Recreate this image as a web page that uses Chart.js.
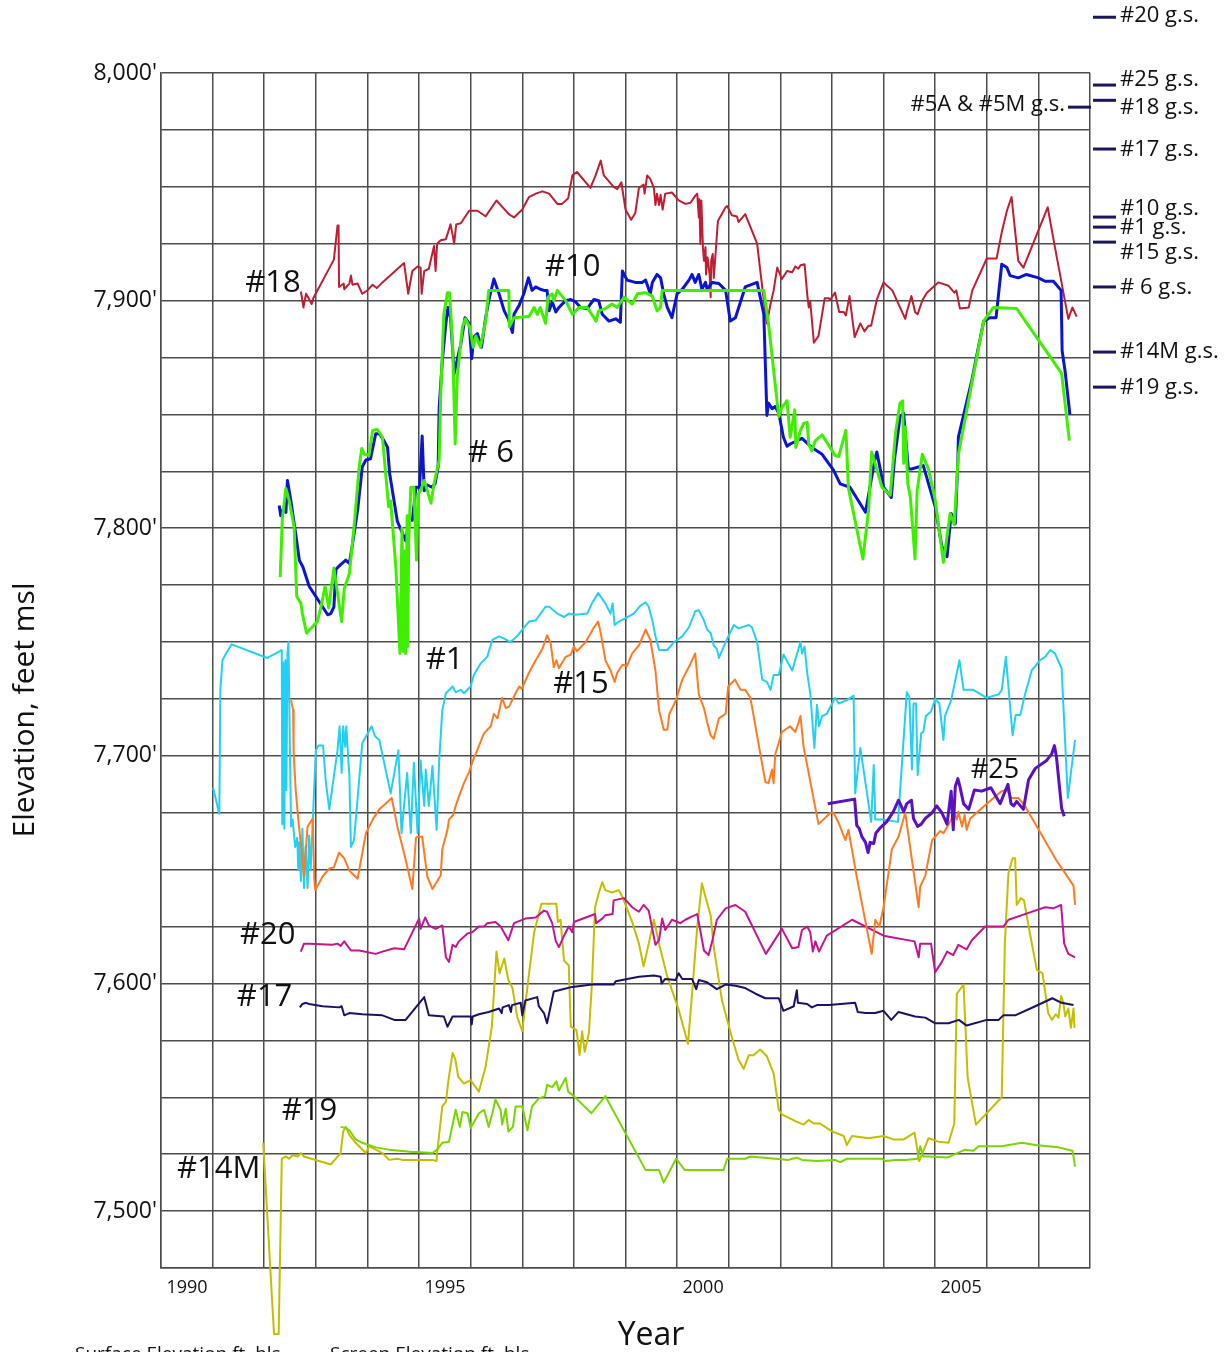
<!DOCTYPE html>
<html>
<head>
<meta charset="utf-8">
<script src="https://cdn.jsdelivr.net/npm/chart.js@4.4.1/dist/chart.umd.min.js"></script>
<style>
  html, body { margin: 0; padding: 0; background: #fff; }
  canvas { display: block; }
</style>
</head>
<body>
<canvas id="hydro" width="1227" height="1352"></canvas>
<script>
// water levels, [decimal year, elevation ft msl]
const well18 = [[1992.71,7904],[1992.76,7897],[1992.81,7903],[1992.86,7901],[1992.92,7898.5],[1992.95,7901],[1993.35,7918],[1993.42,7933],[1993.44,7933],[1993.45,7906],[1993.54,7907.5],[1993.55,7905],[1993.65,7907.5],[1993.68,7911],[1993.71,7907],[1993.81,7907.5],[1993.9,7903],[1994.0,7904.5],[1994.1,7907],[1994.18,7905.5],[1994.29,7908],[1994.71,7916.5],[1994.79,7903],[1994.87,7913],[1994.97,7915],[1995.03,7914.5],[1995.05,7903],[1995.1,7913],[1995.19,7914],[1995.29,7924],[1995.32,7913],[1995.35,7925],[1995.42,7926.5],[1995.52,7927],[1995.61,7933.5],[1995.65,7929],[1995.68,7925],[1995.72,7933.5],[1995.81,7934],[1995.97,7939.5],[1996.13,7939.5],[1996.26,7937.5],[1996.29,7937],[1996.5,7944],[1996.74,7938],[1996.84,7936.5],[1997.0,7940],[1997.13,7945.5],[1997.26,7947],[1997.39,7948],[1997.52,7947],[1997.68,7942.5],[1997.77,7942.5],[1997.89,7945],[1997.97,7955],[1998.06,7956.5],[1998.32,7949.5],[1998.42,7955],[1998.52,7961.5],[1998.58,7955],[1998.77,7950],[1998.84,7949],[1998.92,7952],[1999.0,7940],[1999.11,7935.5],[1999.19,7938.5],[1999.26,7949.5],[1999.35,7951],[1999.37,7947],[1999.42,7955],[1999.48,7953.5],[1999.55,7949.5],[1999.58,7942],[1999.61,7947],[1999.65,7942],[1999.68,7946.5],[1999.72,7940],[1999.77,7947],[1999.9,7947.5],[2000.03,7944],[2000.16,7942.5],[2000.26,7943],[2000.35,7946],[2000.39,7947],[2000.42,7936.5],[2000.43,7944.5],[2000.45,7925],[2000.47,7944],[2000.5,7923.5],[2000.52,7917.5],[2000.55,7923.5],[2000.56,7911.5],[2000.59,7919],[2000.63,7911.5],[2000.65,7901.5],[2000.66,7917.5],[2000.69,7920.5],[2000.71,7910],[2000.74,7919],[2000.79,7935],[2000.94,7941],[2000.97,7941.5],[2001.06,7937.5],[2001.16,7937],[2001.19,7934.5],[2001.32,7938],[2001.55,7925],[2001.68,7900],[2001.74,7890],[2001.81,7898.5],[2001.87,7904.5],[2001.94,7914.5],[2002.03,7909.5],[2002.13,7913],[2002.23,7912.5],[2002.29,7915],[2002.35,7914],[2002.39,7915.5],[2002.47,7916],[2002.52,7903],[2002.55,7897],[2002.58,7899.5],[2002.65,7881.5],[2002.74,7884.5],[2002.86,7901],[2002.94,7901],[2002.97,7900.5],[2003.06,7903.5],[2003.14,7895],[2003.23,7895],[2003.27,7893.5],[2003.34,7902],[2003.44,7884],[2003.55,7890],[2003.63,7886.5],[2003.71,7889],[2003.76,7889],[2003.87,7900.5],[2004.0,7908],[2004.17,7904.5],[2004.42,7892],[2004.45,7895],[2004.54,7902],[2004.61,7895],[2004.66,7894],[2004.75,7900],[2004.84,7903.5],[2005.06,7908],[2005.26,7906.5],[2005.37,7903.5],[2005.41,7904.5],[2005.48,7896.5],[2005.65,7897],[2005.72,7904.5],[2006.0,7918.5],[2006.19,7918.5],[2006.29,7930],[2006.39,7939.5],[2006.48,7945.5],[2006.61,7917.5],[2006.71,7914.5],[2007.18,7941],[2007.32,7923.5],[2007.58,7892],[2007.66,7897],[2007.74,7893]];

const well10 = [[1992.29,7810],[1992.32,7805.5],[1992.37,7808.5],[1992.42,7807],[1992.45,7821],[1992.52,7811.5],[1992.61,7797.5],[1992.68,7786],[1992.75,7783],[1992.87,7774.5],[1993.0,7770],[1993.13,7765.5],[1993.23,7762],[1993.29,7762.5],[1993.35,7765.5],[1993.39,7782],[1993.48,7784],[1993.58,7786],[1993.65,7784.5],[1993.71,7793],[1993.81,7808],[1993.9,7827],[1993.97,7830],[1994.06,7830.5],[1994.16,7841.5],[1994.23,7841.5],[1994.32,7838.5],[1994.39,7835.5],[1994.43,7824],[1994.58,7803],[1994.74,7794.5],[1994.81,7804],[1994.87,7803.5],[1994.94,7818],[1995.01,7818],[1995.06,7840.5],[1995.1,7816.5],[1995.16,7819],[1995.25,7818],[1995.31,7819.5],[1995.37,7827],[1995.39,7853],[1995.45,7873.5],[1995.52,7890],[1995.56,7897],[1995.61,7892.5],[1995.68,7868],[1995.71,7871],[1995.81,7881],[1995.89,7892.5],[1995.97,7890],[1996.02,7874.5],[1996.06,7884],[1996.13,7885.5],[1996.21,7879.5],[1996.29,7892.5],[1996.35,7900],[1996.45,7909.5],[1996.55,7903],[1996.65,7895.5],[1996.73,7892],[1996.81,7886],[1996.84,7894],[1996.94,7898],[1997.03,7903],[1997.12,7910],[1997.19,7904.5],[1997.26,7906],[1997.35,7905],[1997.42,7904.5],[1997.48,7904.5],[1997.52,7895.5],[1997.58,7899.5],[1997.65,7895],[1997.71,7897],[1997.84,7900],[1997.94,7900.5],[1998.03,7899.5],[1998.13,7897],[1998.26,7896.5],[1998.32,7898.5],[1998.39,7900.5],[1998.48,7900],[1998.55,7894],[1998.68,7891],[1998.81,7892],[1998.9,7890.5],[1998.94,7913],[1999.03,7909],[1999.19,7908],[1999.32,7908],[1999.39,7909],[1999.48,7903],[1999.52,7908],[1999.61,7911.5],[1999.68,7910],[1999.74,7903],[1999.81,7897],[1999.9,7892.5],[2000.0,7903],[2000.1,7905],[2000.23,7909],[2000.29,7911.5],[2000.35,7908],[2000.42,7911.5],[2000.48,7905],[2000.55,7908],[2000.58,7905],[2000.68,7908],[2000.81,7907.5],[2000.94,7904.5],[2001.03,7891],[2001.13,7892.5],[2001.32,7906],[2001.55,7908],[2001.68,7894],[2001.74,7849.5],[2001.77,7855],[2001.84,7852.5],[2001.9,7853.5],[2001.97,7850.5],[2002.06,7840],[2002.13,7836],[2002.19,7837],[2002.42,7839.5],[2002.61,7835.5],[2002.81,7832.5],[2003.03,7825.5],[2003.16,7819.5],[2003.35,7818],[2003.65,7807],[2003.83,7830],[2003.87,7833.5],[2003.97,7822],[2004.0,7818],[2004.15,7813.5],[2004.21,7830],[2004.32,7849],[2004.39,7850.5],[2004.48,7826],[2004.54,7826],[2004.77,7827.5],[2005.0,7809.5],[2005.13,7792],[2005.23,7787.5],[2005.31,7806.5],[2005.39,7802],[2005.44,7830],[2005.45,7840],[2005.71,7865],[2005.94,7891],[2006.06,7892.5],[2006.18,7892.5],[2006.29,7916],[2006.39,7914.5],[2006.45,7911],[2006.61,7910],[2006.77,7911.5],[2007.0,7910],[2007.13,7908.5],[2007.29,7908.5],[2007.44,7904.5],[2007.46,7878],[2007.52,7868.5],[2007.61,7850]];

const well6 = [[1992.31,7778.5],[1992.35,7804],[1992.42,7817.5],[1992.48,7812.5],[1992.58,7800.5],[1992.63,7770],[1992.71,7767],[1992.74,7762.5],[1992.82,7754],[1993.03,7759],[1993.1,7765.5],[1993.18,7774.5],[1993.25,7765],[1993.35,7782.5],[1993.42,7771.5],[1993.5,7759],[1993.55,7773.5],[1993.65,7780],[1993.74,7800.5],[1993.84,7827],[1993.89,7835],[1993.94,7832.5],[1994.03,7832],[1994.1,7843],[1994.19,7843.5],[1994.29,7840],[1994.41,7809.5],[1994.45,7812],[1994.55,7783],[1994.63,7745],[1994.67,7800],[1994.69,7746],[1994.72,7790],[1994.74,7745],[1994.77,7805.5],[1994.78,7748],[1994.8,7795],[1994.84,7818],[1994.9,7818],[1994.95,7786],[1994.98,7815],[1995.03,7816.5],[1995.1,7821],[1995.16,7816.5],[1995.23,7811],[1995.29,7819.5],[1995.39,7830],[1995.42,7859],[1995.48,7894],[1995.55,7903.5],[1995.59,7903.5],[1995.65,7881],[1995.7,7837],[1995.74,7866.5],[1995.84,7888.5],[1995.9,7892],[1995.98,7888.5],[1996.05,7879.5],[1996.1,7884.5],[1996.19,7879.5],[1996.29,7891],[1996.35,7904.5],[1996.74,7904.5],[1996.75,7888.5],[1996.84,7892.5],[1997.13,7893],[1997.23,7897],[1997.29,7894],[1997.35,7897],[1997.45,7890],[1997.5,7901.5],[1997.58,7903],[1997.61,7900],[1997.68,7904.5],[1997.84,7900],[1997.97,7894],[1998.1,7897],[1998.26,7897],[1998.43,7891],[1998.48,7895.5],[1998.61,7896.5],[1998.74,7898.5],[1998.84,7897],[1998.97,7901.5],[1999.13,7898.5],[1999.23,7903],[1999.39,7903.5],[1999.52,7902],[1999.61,7895.5],[1999.68,7897],[1999.71,7904.5],[2001.68,7904.5],[2001.77,7890],[2001.97,7849],[2002.03,7853],[2002.13,7856],[2002.19,7840],[2002.28,7852],[2002.3,7835.5],[2002.39,7843],[2002.45,7846],[2002.52,7846.5],[2002.55,7837],[2002.61,7834],[2002.68,7838.5],[2002.81,7841],[2003.06,7832],[2003.13,7831.5],[2003.27,7843],[2003.32,7817.5],[2003.6,7786.5],[2003.71,7808],[2003.77,7833.5],[2003.97,7818],[2004.13,7814.5],[2004.23,7841.5],[2004.32,7855],[2004.37,7856],[2004.39,7828.5],[2004.42,7844.5],[2004.47,7819.5],[2004.52,7813.5],[2004.61,7786.5],[2004.65,7816.5],[2004.68,7821],[2004.75,7832.5],[2004.87,7826],[2005.0,7812.5],[2005.16,7785],[2005.29,7806.5],[2005.37,7801.5],[2005.45,7832.5],[2005.55,7844.5],[2005.94,7891],[2006.13,7897],[2006.58,7896.5],[2007.45,7868],[2007.6,7838.5]];

const well1 = [[1991.01,7686],[1991.13,7674.5],[1991.15,7729],[1991.19,7742],[1991.26,7745],[1991.37,7749],[1992.06,7743],[1992.34,7746.5],[1992.35,7670],[1992.37,7741],[1992.39,7668],[1992.41,7742],[1992.43,7685],[1992.45,7745],[1992.47,7750],[1992.5,7700],[1992.52,7669],[1992.55,7672],[1992.6,7660],[1992.64,7664],[1992.66,7650],[1992.68,7662],[1992.71,7645],[1992.74,7668],[1992.77,7642],[1992.8,7660],[1992.84,7642],[1992.87,7665],[1992.9,7650],[1993.0,7702.5],[1993.05,7704.5],[1993.14,7704.5],[1993.19,7689.5],[1993.26,7676.5],[1993.31,7684.5],[1993.42,7702.5],[1993.46,7713],[1993.5,7692.5],[1993.53,7713],[1993.57,7704],[1993.59,7713],[1993.65,7691],[1993.68,7660],[1993.74,7663],[1993.9,7705.5],[1994.08,7713],[1994.15,7708.5],[1994.23,7707],[1994.45,7683.5],[1994.6,7702.5],[1994.66,7666],[1994.77,7692.5],[1994.84,7666],[1994.9,7697],[1994.97,7666],[1995.03,7698],[1995.1,7678],[1995.13,7694],[1995.19,7678],[1995.26,7695.5],[1995.34,7667.5],[1995.39,7698],[1995.45,7720],[1995.52,7727.5],[1995.65,7730.5],[1995.71,7728],[1995.81,7729],[1995.87,7727.5],[1996.0,7730.5],[1996.06,7735.5],[1996.19,7740.5],[1996.32,7743.5],[1996.42,7751],[1996.55,7752.5],[1996.65,7751.5],[1996.77,7750],[1996.9,7752.5],[1997.0,7755.5],[1997.13,7759],[1997.26,7759.5],[1997.45,7765.5],[1997.52,7765.5],[1997.68,7762.5],[1997.81,7761],[1997.9,7762.5],[1998.03,7762],[1998.26,7762.5],[1998.35,7767],[1998.47,7771.5],[1998.61,7767],[1998.71,7762.5],[1998.75,7767],[1998.79,7757.5],[1998.87,7759],[1999.0,7760.5],[1999.16,7762.5],[1999.29,7766],[1999.39,7767.5],[1999.45,7765.5],[1999.52,7759.5],[1999.58,7752.5],[1999.65,7746.5],[1999.81,7746.5],[1999.94,7750],[2000.1,7752.5],[2000.23,7756.5],[2000.35,7763.5],[2000.42,7764],[2000.52,7759.5],[2000.58,7755.5],[2000.65,7754],[2000.71,7748.5],[2000.77,7747],[2000.81,7743],[2000.94,7750],[2001.1,7757.5],[2001.19,7756],[2001.39,7757.5],[2001.45,7756.5],[2001.55,7750],[2001.65,7733.5],[2001.74,7732.5],[2001.81,7729],[2001.87,7735.5],[2001.97,7735.5],[2002.06,7744.5],[2002.23,7737.5],[2002.39,7750],[2002.42,7745],[2002.47,7748],[2002.52,7736.5],[2002.58,7727.5],[2002.66,7703.5],[2002.71,7722.5],[2002.75,7713],[2002.81,7717.5],[2002.9,7718.5],[2003.06,7725.5],[2003.13,7723],[2003.29,7724.5],[2003.42,7726.5],[2003.45,7683.5],[2003.55,7703.5],[2003.76,7671],[2003.81,7696],[2003.84,7672],[2003.97,7672],[2004.28,7671],[2004.45,7728],[2004.5,7726],[2004.55,7694],[2004.58,7723],[2004.63,7723],[2004.66,7691.5],[2004.73,7710],[2004.77,7710.5],[2004.82,7717.5],[2004.92,7719.5],[2005.0,7725],[2005.08,7723],[2005.16,7707],[2005.19,7717.5],[2005.31,7724.5],[2005.47,7742],[2005.55,7729],[2005.74,7729],[2006.0,7725.5],[2006.23,7727],[2006.29,7729],[2006.37,7743.5],[2006.5,7709],[2006.56,7718],[2006.65,7718],[2006.74,7727],[2006.87,7737.5],[2007.03,7742],[2007.13,7743.5],[2007.23,7746.5],[2007.32,7745],[2007.45,7738.5],[2007.57,7681.5],[2007.71,7707]];

const well15 = [[1992.52,7724.5],[1992.56,7720],[1992.57,7701],[1992.61,7685],[1992.66,7672],[1992.74,7654.5],[1992.77,7647],[1992.84,7669],[1992.94,7672.5],[1992.97,7645.5],[1992.99,7641],[1993.13,7647],[1993.26,7650.5],[1993.35,7651],[1993.45,7657.5],[1993.55,7655],[1993.65,7649.5],[1993.81,7646],[1993.97,7666],[1994.1,7672],[1994.23,7676.5],[1994.35,7679],[1994.47,7681.5],[1994.58,7669],[1994.74,7654.5],[1994.87,7641.5],[1994.94,7664],[1994.97,7664.5],[1995.06,7664.5],[1995.16,7647],[1995.26,7641.5],[1995.42,7647.5],[1995.45,7659],[1995.55,7667.5],[1995.58,7672],[1995.66,7674],[1995.71,7678],[1995.77,7682],[1995.87,7688],[1995.97,7693],[1996.06,7699],[1996.1,7701],[1996.26,7710],[1996.39,7713],[1996.45,7718.5],[1996.52,7716.5],[1996.61,7725.5],[1996.68,7721],[1996.74,7721.5],[1996.87,7727.5],[1996.94,7730.5],[1996.99,7729.5],[1997.13,7736.5],[1997.26,7742],[1997.39,7747],[1997.48,7753],[1997.55,7749.5],[1997.61,7739],[1997.66,7742],[1997.71,7738.5],[1997.84,7743.5],[1997.94,7744.5],[1998.0,7748],[1998.06,7746],[1998.23,7750],[1998.39,7756.5],[1998.47,7759],[1998.52,7754],[1998.61,7742],[1998.71,7737.5],[1998.79,7732.5],[1998.84,7736.5],[1998.94,7740],[1999.03,7739.5],[1999.13,7745],[1999.26,7748.5],[1999.39,7755.5],[1999.48,7751],[1999.58,7737.5],[1999.65,7720],[1999.74,7711.5],[1999.81,7711.5],[1999.85,7718.5],[1999.97,7724],[2000.1,7733.5],[2000.26,7740.5],[2000.35,7745],[2000.37,7740],[2000.42,7727],[2000.52,7721],[2000.58,7715],[2000.65,7709],[2000.71,7707.5],[2000.81,7716.5],[2000.94,7718.5],[2000.99,7730.5],[2001.12,7733.5],[2001.23,7729],[2001.32,7729],[2001.42,7725.5],[2001.71,7688.5],[2001.77,7688],[2001.84,7694],[2001.87,7688],[2001.9,7700.5],[2002.03,7710.5],[2002.19,7713],[2002.29,7710.5],[2002.35,7714.5],[2002.39,7717.5],[2002.45,7704],[2002.74,7670],[2002.97,7675],[2003.03,7675],[2003.13,7670.5],[2003.26,7663],[2003.32,7667.5],[2003.48,7647],[2003.77,7613],[2003.84,7628],[2003.92,7625],[2004.0,7633.5],[2004.13,7654],[2004.16,7659],[2004.29,7664.5],[2004.42,7675],[2004.68,7633.5],[2004.71,7642.5],[2004.81,7647.5],[2004.94,7663],[2005.1,7667],[2005.16,7666],[2005.29,7671],[2005.37,7675],[2005.42,7672],[2005.45,7675.5],[2005.52,7669],[2005.57,7674],[2005.61,7667.5],[2005.68,7672.5],[2006.0,7679],[2006.29,7684.5],[2006.39,7685],[2006.48,7681.5],[2006.61,7681.5],[2006.74,7678],[2007.35,7654],[2007.68,7643],[2007.71,7634.5]];

const well25 = [[2002.92,7679],[2003.44,7681],[2003.48,7669.5],[2003.53,7668],[2003.58,7664.5],[2003.65,7662],[2003.7,7657.5],[2003.74,7662],[2003.81,7661.5],[2003.85,7666],[2003.94,7668.5],[2004.06,7671],[2004.19,7675.5],[2004.29,7680.5],[2004.39,7675.5],[2004.45,7679],[2004.54,7680.5],[2004.58,7672.5],[2004.66,7669],[2004.73,7670],[2004.81,7672.5],[2004.94,7675],[2005.03,7678],[2005.13,7675],[2005.23,7670],[2005.31,7684.5],[2005.35,7667.5],[2005.39,7686.5],[2005.44,7690],[2005.48,7686.5],[2005.55,7679],[2005.65,7676.5],[2005.76,7685],[2005.9,7684.5],[2006.08,7686],[2006.26,7679],[2006.41,7687.5],[2006.47,7679],[2006.52,7678],[2006.58,7680],[2006.71,7676.5],[2006.81,7689.5],[2006.94,7694.5],[2007.16,7698],[2007.26,7701],[2007.31,7704.5],[2007.35,7699.5],[2007.45,7677],[2007.5,7673.5]];

const well20 = [[1992.71,7614],[1992.77,7617.5],[1992.87,7617.5],[1993.32,7617],[1993.42,7617.5],[1993.48,7616.5],[1993.55,7618.5],[1993.68,7614.5],[1993.84,7614.5],[1994.16,7613],[1994.29,7614],[1994.52,7615.5],[1994.71,7615],[1995.0,7628.5],[1995.03,7624],[1995.12,7629],[1995.19,7625.5],[1995.32,7624],[1995.45,7625.5],[1995.52,7611.5],[1995.58,7609.5],[1995.65,7617],[1995.71,7616],[1995.77,7618.5],[1995.94,7622],[1996.03,7622.5],[1996.16,7625],[1996.26,7625],[1996.32,7626.5],[1996.48,7627],[1996.58,7625],[1996.73,7619],[1996.84,7626.5],[1997.06,7628.5],[1997.26,7629],[1997.42,7632],[1997.48,7631.5],[1997.58,7626.5],[1997.65,7618.5],[1997.71,7616],[1997.81,7621],[1997.9,7625],[1997.97,7622.5],[1998.0,7627],[1998.23,7629],[1998.41,7630.5],[1998.43,7626.5],[1998.55,7628.5],[1998.61,7630],[1998.75,7630.5],[1998.77,7636.5],[1998.97,7637.5],[1999.13,7633.5],[1999.26,7631.5],[1999.35,7634.5],[1999.45,7632],[1999.58,7617],[1999.65,7619],[1999.71,7628.5],[1999.77,7623.5],[1999.9,7628],[2000.06,7626.5],[2000.16,7628],[2000.29,7629.5],[2000.39,7630.5],[2000.52,7614.5],[2000.61,7612.5],[2000.68,7618.5],[2000.77,7628],[2000.94,7633],[2001.13,7634.5],[2001.32,7631.5],[2001.72,7613],[2002.03,7624],[2002.23,7615.5],[2002.35,7616],[2002.42,7623.5],[2002.52,7625],[2002.58,7622.5],[2002.63,7614],[2002.68,7618.5],[2002.75,7614],[2002.9,7621],[2003.39,7628],[2004.0,7621],[2004.6,7618.5],[2004.68,7611.5],[2004.71,7617.5],[2004.92,7617.5],[2005.0,7605],[2005.13,7609.5],[2005.23,7614],[2005.35,7612.5],[2005.45,7617],[2005.61,7615],[2005.71,7619],[2005.97,7625],[2006.19,7625],[2006.32,7625],[2006.42,7628],[2006.81,7631],[2007.13,7633.5],[2007.29,7633],[2007.44,7634.5],[2007.5,7617.5],[2007.58,7613],[2007.71,7611.5]];

const well17 = [[1992.69,7589.5],[1992.74,7591],[1992.81,7591.5],[1992.87,7591],[1993.13,7590],[1993.45,7589.5],[1993.5,7590],[1993.55,7586],[1993.65,7587],[1993.9,7586.5],[1994.29,7586],[1994.52,7584],[1994.74,7584],[1995.1,7594],[1995.19,7586],[1995.48,7585.5],[1995.55,7581],[1995.65,7585.5],[1995.97,7585.5],[1996.0,7585.5],[1996.02,7582],[1996.04,7585.5],[1996.16,7586.5],[1996.35,7587.5],[1996.55,7589],[1996.6,7587],[1996.62,7589.5],[1996.74,7590.5],[1996.78,7587.5],[1996.8,7590.5],[1996.97,7591.5],[1997.0,7586],[1997.06,7592.5],[1997.29,7594],[1997.32,7590],[1997.42,7587],[1997.48,7582.5],[1997.61,7596.5],[1997.71,7597],[1997.97,7598.5],[1998.35,7599.5],[1998.77,7599.5],[1998.81,7601],[1999.26,7603],[1999.55,7603.5],[1999.68,7603],[1999.7,7600],[1999.77,7602],[1999.97,7601.5],[2000.03,7604.5],[2000.1,7602],[2000.29,7602],[2000.37,7597.5],[2000.42,7601.5],[2000.58,7600.5],[2000.77,7597.5],[2000.94,7599.5],[2001.13,7599],[2001.32,7598],[2001.52,7595.5],[2001.71,7593.5],[2001.97,7593.5],[2002.06,7588],[2002.26,7590],[2002.32,7597],[2002.34,7591.5],[2002.52,7591],[2002.61,7589.5],[2002.71,7590.5],[2002.94,7590.5],[2003.45,7591.5],[2003.5,7587.5],[2003.65,7587],[2003.84,7587],[2004.0,7588],[2004.15,7584],[2004.29,7587.5],[2004.61,7585.5],[2004.81,7585],[2005.0,7582.5],[2005.26,7582.5],[2005.46,7584],[2005.61,7581.5],[2006.0,7584],[2006.23,7584],[2006.32,7586],[2006.55,7586],[2006.94,7590],[2007.27,7593.5],[2007.45,7591.5],[2007.68,7590.5]];

const well19 = [[1993.48,7537],[1993.58,7536.5],[1993.65,7535.5],[1993.77,7531.5],[1993.9,7530],[1994.16,7528],[1994.42,7527],[1994.87,7526],[1994.94,7526],[1995.26,7525.5],[1995.35,7527],[1995.45,7530],[1995.58,7530.5],[1995.71,7544.5],[1995.79,7537],[1995.84,7543.5],[1995.94,7543],[1996.0,7536.5],[1996.16,7543],[1996.26,7544.5],[1996.35,7537],[1996.42,7543],[1996.48,7549],[1996.58,7544.5],[1996.61,7538],[1996.68,7545],[1996.73,7535],[1996.82,7537],[1996.87,7546],[1997.0,7546],[1997.1,7535.5],[1997.19,7546],[1997.32,7549.5],[1997.44,7550.5],[1997.48,7555.5],[1997.58,7554.5],[1997.66,7557],[1997.71,7553],[1997.84,7558.5],[1997.89,7552.5],[1998.0,7550.5],[1998.34,7543],[1998.61,7550.5],[1999.39,7518],[1999.65,7518],[1999.74,7512.5],[1999.98,7523],[2000.15,7518],[2000.9,7518],[2000.97,7523],[2001.32,7523],[2001.42,7524],[2002.16,7522.5],[2002.23,7523],[2002.32,7523.5],[2002.42,7522.5],[2002.71,7522],[2003.06,7522.5],[2003.16,7521.5],[2003.29,7523],[2003.97,7523],[2004.03,7522],[2004.23,7522.5],[2004.42,7522.5],[2004.66,7523],[2004.71,7528.5],[2004.77,7524],[2004.87,7524],[2005.23,7523.5],[2005.58,7527],[2005.74,7526.5],[2005.84,7528.5],[2006.29,7528.5],[2006.68,7530],[2006.94,7529],[2007.19,7528.5],[2007.39,7528],[2007.66,7526.5],[2007.68,7524],[2007.71,7519.5]];

const well14M = [[1991.98,7530],[1992.19,7446],[1992.28,7446],[1992.34,7523],[1992.42,7524],[1992.48,7523],[1992.55,7524.5],[1992.65,7524],[1992.71,7525.5],[1992.77,7524],[1993.29,7520.5],[1993.48,7525.5],[1993.53,7535],[1993.58,7537],[1993.65,7533.5],[1993.77,7530],[1993.97,7525.5],[1994.03,7528.5],[1994.16,7527],[1994.29,7525.5],[1994.42,7522.5],[1994.58,7523],[1994.68,7522.5],[1994.87,7522.5],[1995.26,7522.5],[1995.34,7522],[1995.35,7525.5],[1995.45,7546],[1995.52,7548],[1995.57,7557.5],[1995.65,7569.5],[1995.7,7567],[1995.76,7559],[1995.87,7556],[1996.0,7557.5],[1996.16,7552.5],[1996.29,7563.5],[1996.41,7581],[1996.5,7614],[1996.56,7604.5],[1996.65,7611],[1996.73,7601.5],[1996.81,7598],[1996.9,7585.5],[1997.0,7579],[1997.1,7598.5],[1997.23,7622.5],[1997.32,7630.5],[1997.37,7635],[1997.66,7635],[1997.69,7627],[1997.74,7628],[1997.81,7610],[1997.9,7608],[1997.94,7581],[1998.05,7579.5],[1998.11,7568.5],[1998.16,7579],[1998.21,7570],[1998.29,7578],[1998.35,7600],[1998.41,7633.5],[1998.48,7639.5],[1998.55,7644.5],[1998.61,7641],[1998.74,7640],[1998.87,7641],[1998.94,7638],[1999.13,7627],[1999.26,7617.5],[1999.35,7607.5],[1999.45,7617.5],[1999.55,7628],[1999.65,7617.5],[1999.81,7603],[2000.03,7588.5],[2000.21,7573.5],[2000.29,7595.5],[2000.39,7625],[2000.48,7644],[2000.55,7638],[2000.65,7630],[2000.71,7616],[2000.87,7592.5],[2001.06,7576.5],[2001.19,7566.5],[2001.29,7562.5],[2001.39,7568.5],[2001.48,7568.5],[2001.61,7571],[2001.74,7568],[2001.87,7560.5],[2001.97,7544.5],[2002.03,7542.5],[2002.29,7539.5],[2002.45,7538],[2002.55,7540],[2002.65,7538.5],[2002.77,7538.5],[2003.0,7535],[2003.23,7533],[2003.29,7529],[2003.39,7533],[2003.71,7532],[2004.0,7533],[2004.19,7531.5],[2004.39,7531.5],[2004.6,7534.5],[2004.69,7522],[2004.87,7532],[2005.06,7530.5],[2005.26,7530],[2005.37,7538.5],[2005.42,7595.5],[2005.55,7599.5],[2005.63,7558.5],[2005.79,7538],[2006.29,7550],[2006.35,7617.5],[2006.42,7648.5],[2006.5,7655],[2006.55,7655],[2006.58,7634.5],[2006.66,7637.5],[2006.72,7636.5],[2006.84,7621.5],[2006.97,7606],[2007.08,7604.5],[2007.19,7587],[2007.26,7584],[2007.34,7586.5],[2007.39,7585],[2007.44,7594.5],[2007.48,7592],[2007.52,7585.5],[2007.58,7589],[2007.63,7580.5],[2007.68,7589],[2007.7,7580.5]];

// ground surface elevations marked beside the right edge
const gsNames = ['#20 g.s.', '#25 g.s.', '#18 g.s.', '#17 g.s.', '#10 g.s.', '#1 g.s.', '#15 g.s.', '# 6 g.s.', '#14M g.s.', '#19 g.s.'];
const gsElev = [8024.5, 7994.7, 7988, 7966.6, 7936.7, 7932.3, 7925.7, 7906, 7877.4, 7862];
const gs5AM = 7985;

const yearTicks = [1990, 1995, 2000, 2005];

const FONT = '"Open Sans", "Noto Sans", sans-serif';
const pts = arr => arr.map(p => ({ x: p[0], y: p[1] }));

function line(label, data, color, width) {
  return { label, data: pts(data), borderColor: color, borderWidth: width,
           pointRadius: 0, tension: 0, fill: false, borderJoinStyle: 'round' };
}

// well tags placed in data units (left edge, vertical centre)
const tags = [
  { t: '#18', x: 1991.63, y: 7907.7, s: 31 },
  { t: '#10', x: 1997.44, y: 7914.8, s: 31 },
  { t: '# 6', x: 1995.95, y: 7833.0, s: 31 },
  { t: '#1', x: 1995.13, y: 7742.1, s: 31 },
  { t: '#15', x: 1997.6, y: 7731.5, s: 31 },
  { t: '#25', x: 2005.69, y: 7693.8, s: 27 },
  { t: '#20', x: 1991.53, y: 7621.3, s: 31 },
  { t: '#17', x: 1991.47, y: 7594.0, s: 31 },
  { t: '#19', x: 1992.34, y: 7543.9, s: 31 },
  { t: '#14M', x: 1990.31, y: 7518.5, s: 31 }
];
// small vertical nudges so crowded g.s. names don't collide
const gsNudge = [-1, -5, 7, 1, -8, 1, 11, 1, 0, 1];

const annotate = {
  id: 'annotate',
  afterDraw(chart) {
    const { ctx, chartArea: a, scales: { x, y } } = chart;
    ctx.save();
    ctx.fillStyle = '#111';
    ctx.textBaseline = 'middle';

    tags.forEach(g => {
      ctx.font = g.s + 'px ' + FONT;
      ctx.textAlign = 'left';
      ctx.fillText(g.t, x.getPixelForValue(g.x), y.getPixelForValue(g.y));
    });

    ctx.strokeStyle = '#1c1660';
    ctx.lineWidth = 3;
    ctx.font = '22px ' + FONT;
    gsElev.forEach((e, i) => {
      const py = y.getPixelForValue(e);
      ctx.beginPath();
      ctx.moveTo(a.right + 3, py);
      ctx.lineTo(a.right + 26, py);
      ctx.stroke();
      ctx.textAlign = 'left';
      ctx.fillText(gsNames[i], a.right + 30, py + gsNudge[i]);
    });
    const p5 = y.getPixelForValue(gs5AM);
    ctx.beginPath();
    ctx.moveTo(a.right - 22, p5);
    ctx.lineTo(a.right + 1, p5);
    ctx.stroke();
    ctx.textAlign = 'right';
    ctx.fillText('#5A & #5M g.s.', a.right - 25, p5 - 2);

    // footer line, mostly below the canvas edge
    ctx.textAlign = 'left';
    ctx.textBaseline = 'alphabetic';
    ctx.font = '19px ' + FONT;
    ctx.fillText('Surface Elevation ft. bls', 75, 1360);
    ctx.fillText('Screen Elevation ft. bls', 330, 1360);

    // axis titles
    ctx.textBaseline = 'middle';
    ctx.textAlign = 'center';
    ctx.font = '32px ' + FONT;
    ctx.fillText('Year', 651, 1336);
    ctx.translate(25, 710);
    ctx.rotate(-Math.PI / 2);
    ctx.font = '30px ' + FONT;
    ctx.fillText('Elevation, feet msl', 0, 0);
    ctx.restore();
  }
};

const olive = line('#14M', well14M, '#c4be00', 2);
olive.clip = false;

new Chart(document.getElementById('hydro'), {
  type: 'line',
  data: {
    datasets: [
      line('#6', well6, '#3ef000', 3),
      line('#10', well10, '#0a14d4', 3),
      line('#18', well18, '#be1e32', 2),
      line('#25', well25, '#5a10c4', 3),
      line('#15', well15, '#ff7a22', 2),
      line('#1', well1, '#22d0f4', 2),
      line('#20', well20, '#c41490', 2),
      line('#17', well17, '#1e1064', 2),
      line('#19', well19, '#7ad600', 2),
      olive
    ]
  },
  options: {
    responsive: false,
    animation: false,
    devicePixelRatio: 1,
    layout: { padding: { top: 73, right: 137, left: 0, bottom: 0 } },
    plugins: { legend: { display: false }, tooltip: { enabled: false } },
    scales: {
      x: {
        type: 'linear',
        min: 1990,
        max: 2008,
        afterFit: s => { s.height = 84; },
        grid: { color: '#4d4d4d', lineWidth: 1.5, drawTicks: false },
        border: { color: '#4d4d4d', width: 1.5 },
        ticks: {
          stepSize: 1,
          autoSkip: false,
          maxRotation: 0,
          padding: 9,
          labelOffset: 26,
          color: '#111',
          font: { family: FONT, size: 18 },
          callback: v => yearTicks.includes(v) ? String(v) : ''
        }
      },
      y: {
        min: 7475,
        max: 8000,
        afterFit: s => { s.width = 161; },
        grid: { color: '#4d4d4d', lineWidth: 1.5, drawTicks: false },
        border: { color: '#4d4d4d', width: 1.5 },
        ticks: {
          stepSize: 25,
          autoSkip: false,
          padding: 4,
          color: '#111',
          font: { family: FONT, size: 23 },
          callback: v => v % 100 === 0 ? String(v)[0] + ',' + String(v).slice(1) + "'" : ''
        }
      }
    }
  },
  plugins: [annotate]
});
</script>
</body>
</html>
